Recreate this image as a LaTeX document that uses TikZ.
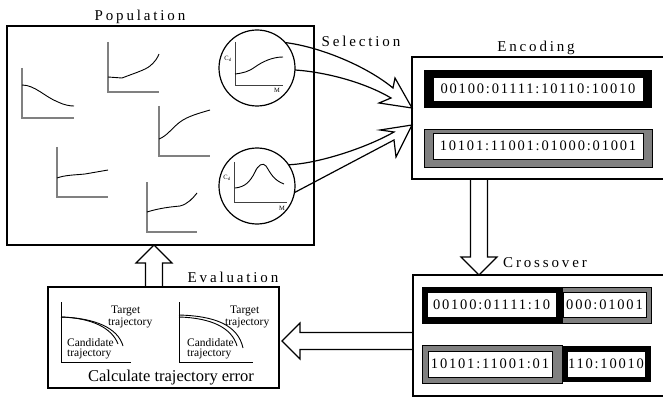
\documentclass[tikz,border=0pt]{standalone}
\usepackage{fontspec}
\setmainfont{Liberation Serif}
\newfontfamily\titlefont[LetterSpace=19]{Liberation Serif}
\newfontfamily\bitfont[LetterSpace=12.5]{Liberation Serif}
\usetikzlibrary{calc,positioning}

\tikzset{
	panel/.style={draw=black, line width=1.2pt, inner sep=0pt, outer sep=0pt},
	steptitle/.style={anchor=base, font=\titlefont\fontsize{15}{18}\selectfont},
	selcircle/.style={circle, draw=black, line width=1.2pt, minimum size=76pt, inner sep=0pt, outer sep=0pt},
	blackframe/.style={fill=black, inner sep=0pt, outer sep=0pt},
	grayframe/.style={fill=black!50, draw=black, line width=0.6pt, inner sep=0pt, outer sep=0pt},
	bitbox/.style={fill=white, draw=black, line width=0.6pt, inner sep=0pt, outer sep=0pt, font=\bitfont\fontsize{14.5}{17}\selectfont},
	popaxis/.style={draw=black!50, line width=1.2pt},
	zoomaxis/.style={draw=black!75, line width=0.9pt},
	evalaxis/.style={draw=black, line width=0.8pt},
	trend/.style={line width=0.9pt},
	axislabel/.style={font=\fontsize{6.5}{7}\selectfont, inner sep=0pt},
	trajlabel/.style={anchor=base west, font=\fontsize{11.5}{12}\selectfont, inner sep=0pt},
	blockarrow/.style={line width=1.2pt, line join=miter},
}

\newcommand{\hollowarrow}[2]{%
	\coordinate (hb) at ($(#2)!18pt!(#1)$);
	\draw[blockarrow] ($(#1)!8.5pt!90:(#2)$) -- ($(hb)!8.5pt!90:(#2)$) -- ($(hb)!18pt!90:(#2)$) -- (#2)
		-- ($(hb)!18pt!-90:(#2)$) -- ($(hb)!8.5pt!-90:(#2)$) -- ($(#1)!8.5pt!-90:(#2)$);
}

\begin{document}
\begin{tikzpicture}[x=1pt, y=-1pt]
	\useasboundingbox (0,0) rectangle (663,398);

	\node[panel, minimum width=307pt, minimum height=219pt] (population) at (160.5,135.5) {};
	\node[steptitle] (poptitle) at (140,21) {Population};

	\draw[popaxis] (22,68) -- (22,118) -- (74,118);
	\draw[trend] (22,85) .. controls (35,85) and (45,97) .. (58,102) .. controls (64,105) and (70,106) .. (74,106);
	\draw[popaxis] (108,42) -- (108,92) -- (159,92);
	\draw[trend] (108,77) -- (122,78) .. controls (135,73) and (145,70) .. (150,66) .. controls (155,62) and (158,57) .. (159,54);
	\draw[popaxis] (159,106) -- (159,156) -- (210,156);
	\draw[trend] (159,139) .. controls (167,136) and (172,128) .. (180,122) .. controls (188,116) and (200,113) .. (210,110);
	\draw[popaxis] (57,147) -- (57,197) -- (108,197);
	\draw[trend] (57,178) .. controls (65,175) and (75,175) .. (85,174) -- (108,170);
	\draw[popaxis] (147,182) -- (147,232) -- (197,232);
	\draw[trend] (147,212) .. controls (160,208) and (170,207) .. (180,206) .. controls (188,204) and (193,198) .. (197,193);

	\node[selcircle] (selA) at (257,68) {};
	\draw[zoomaxis] (235,42) -- (235,85) -- (283,85);
	\draw[trend] (235,74) .. controls (243,73) and (248,72) .. (255,67) .. controls (262,62) and (272,57) .. (283,57);
	\node[axislabel] (cdA) at (228,59) {C\textsubscript{d}};
	\node[axislabel] (mA) at (277,90) {M};

	\node[selcircle] (selB) at (257,186) {};
	\draw[zoomaxis] (234,162) -- (234,202) -- (287,202);
	\draw[trend] (235,188) .. controls (245,187) and (250,182) .. (255,172) .. controls (258,165) and (263,162) .. (266,166) .. controls (270,172) and (273,180) .. (284,184);
	\node[axislabel] (cdB) at (227,178) {C\textsubscript{d}};
	\node[axislabel] (mB) at (282,208) {M};

	\node[steptitle] (seltitle) at (361,47) {Selection};

	\node[panel, minimum width=268pt, minimum height=122pt] (encoding) at (546,118) {};
	\node[steptitle] (enctitle) at (536,52) {Encoding};
	\node[blackframe, minimum width=228pt, minimum height=38pt] (encA) at (538,89) {};
	\node[bitbox, minimum width=210pt, minimum height=24pt] (bitsA) at (encA) {00100:01111:10110:10010};
	\node[grayframe, minimum width=228pt, minimum height=38pt] (encB) at (538,148) {};
	\node[bitbox, minimum width=210pt, minimum height=26pt] (bitsB) at (538,146) {10101:11001:01000:01001};

	\coordinate (tipA) at ([yshift=10pt]encoding.west);
	\coordinate (tipB) at ([yshift=-7pt]encoding.west);
	\draw[blockarrow] (selA.42) .. controls +(33,4) and +(-28,-23) .. ($(tipA)+(-19,-20)$) -- ($(tipA)+(-17,-30)$) -- (tipA)
		-- ($(tipA)+(-33,-5)$) -- ($(tipA)+(-21,-10)$) .. controls +(-27,-16) and +(30,2) .. (selA.-3);
	\draw[blockarrow] (selB.34) .. controls +(29,-1) and +(-28,16) .. ($(tipB)+(-18,7)$) -- ($(tipB)+(-32,5)$) -- (tipB)
		-- ($(tipB)+(-16,32)$) -- ($(tipB)+(-18,15)$) -- (selB.-10);

	\node[panel, minimum width=267pt, minimum height=121pt] (crossover) at (546.5,335.5) {};
	\node[steptitle] (crosstitle) at (545,267) {Crossover};
	\node[grayframe, minimum width=89pt, minimum height=36pt] (crossAr) at (606.5,305) {};
	\node[blackframe, minimum width=140pt, minimum height=37pt] (crossAl) at (492,305.5) {};
	\node[bitbox, minimum width=129pt, minimum height=25pt] (bitsAl) at (491.5,304.5) {00100:01111:10};
	\node[bitbox, minimum width=83pt, minimum height=25pt] (bitsAr) at (604.5,304.5) {000:01001};
	\node[grayframe, minimum width=140pt, minimum height=38pt] (crossBl) at (492,364) {};
	\node[blackframe, minimum width=89pt, minimum height=36pt] (crossBr) at (606.5,364) {};
	\node[bitbox, minimum width=124pt, minimum height=26pt] (bitsBl) at (490,364) {10101:11001:01};
	\node[bitbox, minimum width=78pt, minimum height=26pt] (bitsBr) at (606,364) {110:10010};

	\node[panel, minimum width=231pt, minimum height=101pt] (evaluation) at (163.5,337.5) {};
	\node[steptitle] (evaltitle) at (233,282) {Evaluation};
	\draw[evalaxis] (61,302) -- (61,362) -- (131,362);
	\draw[trend] (61,317) .. controls (95,318) and (118,328) .. (123,346);
	\draw[trend] (61,317) .. controls (92,318) and (112,328) .. (118,344);
	\node[trajlabel] (tgtA) at (111,313) {Target};
	\node[trajlabel] (tgtAb) at (108,325) {trajectory};
	\node[trajlabel] (candA) at (67,346) {Candidate};
	\node[trajlabel] (candAb) at (67,356) {trajectory};
	\draw[evalaxis] (179,302) -- (179,362) -- (253,362);
	\draw[trend] (179,315) .. controls (215,316) and (238,325) .. (243,348);
	\draw[trend] (179,317) .. controls (212,318) and (232,328) .. (237,346);
	\node[trajlabel] (tgtB) at (230,313) {Target};
	\node[trajlabel] (tgtBb) at (225,325) {trajectory};
	\node[trajlabel] (candB) at (187,346) {Candidate};
	\node[trajlabel] (candBb) at (187,356) {trajectory};
	\node[anchor=base, font=\fontsize{16.5}{18}\selectfont, inner sep=0pt] (evalnote) at (171,381) {Calculate trajectory error};

	\coordinate (evalout) at (154,0 |- evaluation.north);
	\coordinate (popin) at (154,0 |- population.south);
	\coordinate (encout) at (479,0 |- encoding.south);
	\coordinate (crossin) at (479,0 |- crossover.north);
	\coordinate (crossout) at (crossover.west |- 0,341);
	\coordinate (evalin) at ([xshift=3pt]evaluation.east |- 0,341);
	\hollowarrow{evalout}{popin}
	\hollowarrow{encout}{crossin}
	\hollowarrow{crossout}{evalin}
\end{tikzpicture}
\end{document}
